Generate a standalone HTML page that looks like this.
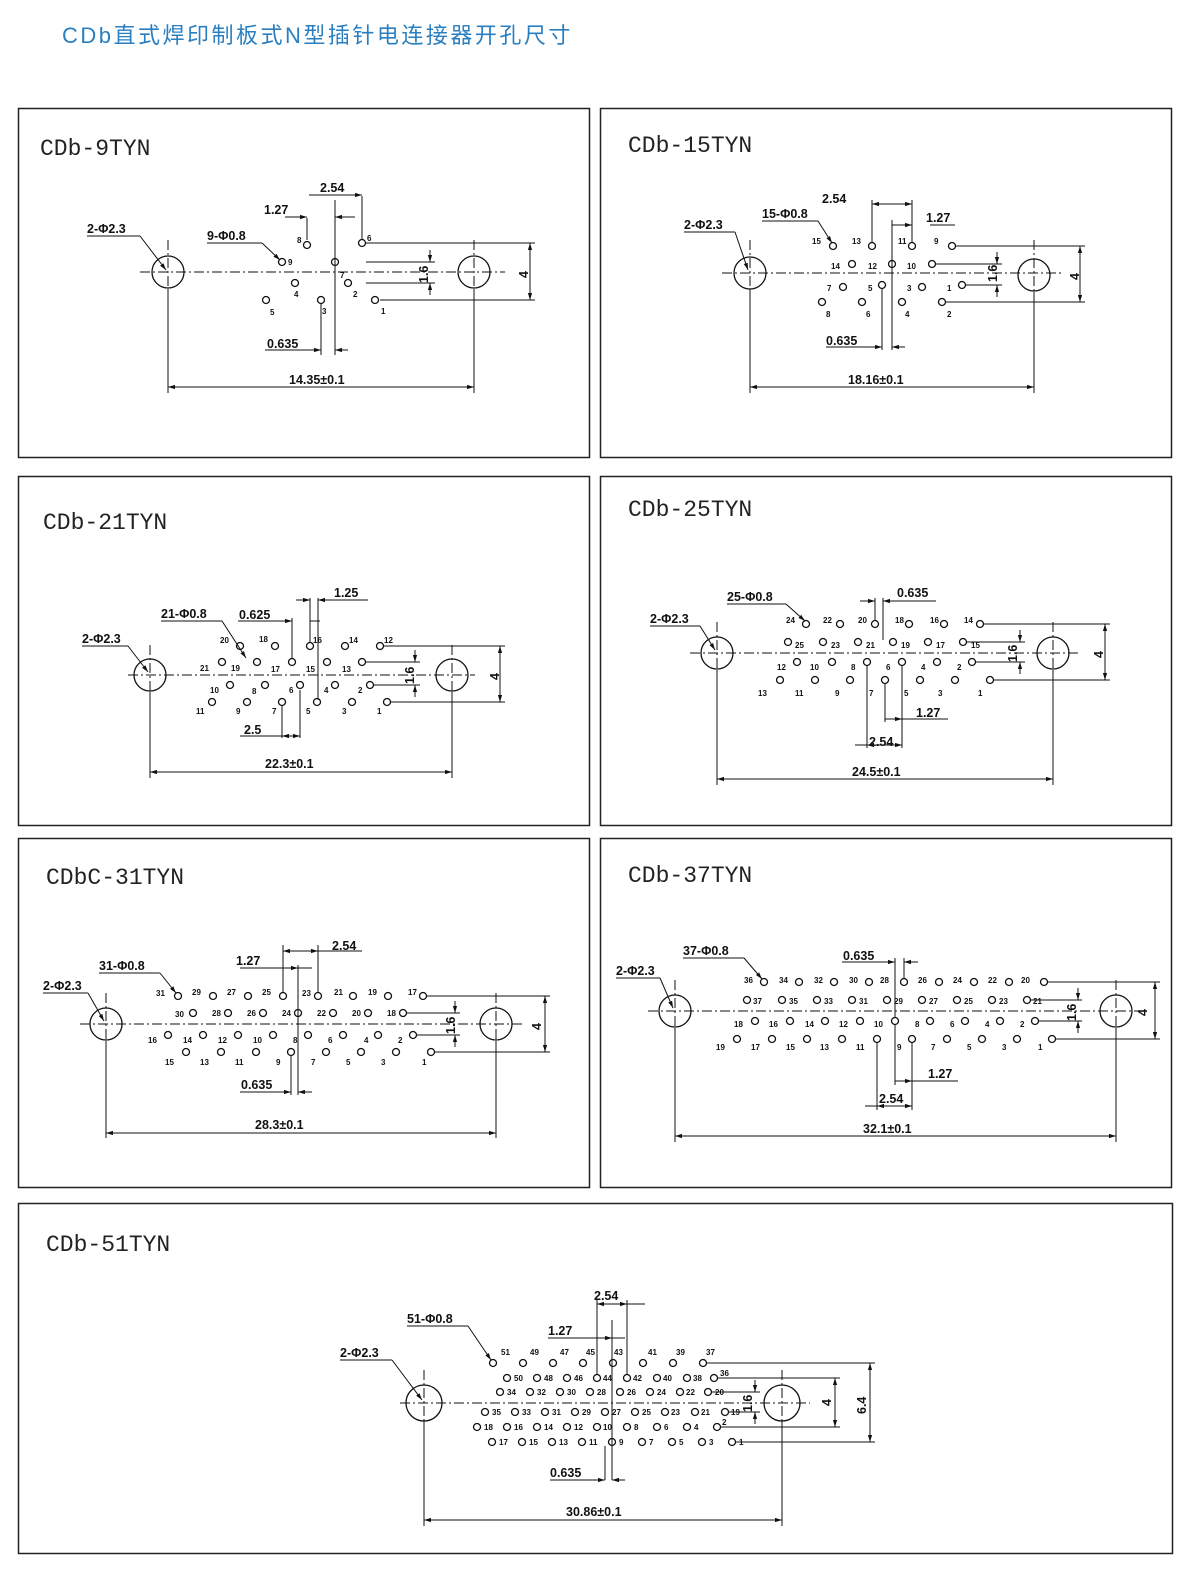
<!DOCTYPE html>
<html><head><meta charset="utf-8"><style>
html,body{margin:0;padding:0;background:#fff;overflow:hidden;width:1200px;height:1586px;}
svg{display:block;}
.t{font-family:"Liberation Sans",sans-serif;font-weight:bold;font-size:12.5px;fill:#111;}
.p{font-family:"Liberation Sans",sans-serif;font-weight:bold;font-size:8px;fill:#111;}
.h{font-family:"Liberation Mono","DejaVu Sans Mono",monospace;font-size:23px;fill:#222;}
circle{fill:none;stroke:#111;stroke-width:1.3;}
line,polyline{stroke:#111;stroke-width:1;}
.c{stroke-dasharray:10,3,2,3;}
</style></head><body>
<svg width="1200" height="1586" viewBox="0 0 1200 1586" xmlns="http://www.w3.org/2000/svg">
<defs><marker id="a" viewBox="0 0 10 10" refX="10" refY="5" markerWidth="7" markerHeight="7" orient="auto-start-reverse"><path d="M0,2 L10,5 L0,8 z" fill="#111"/></marker></defs>
<text x="62" y="43" font-size="22" fill="#2a7fc0" style="font-family:'Liberation Sans','Noto Sans CJK SC',sans-serif;letter-spacing:2.5px">CDb直式焊印制板式N型插针电连接器开孔尺寸</text>
<g fill="none" stroke="#222" stroke-width="1.5">
<rect x="18.5" y="108.5" width="571" height="349"/>
<rect x="600.5" y="108.5" width="571" height="349"/>
<rect x="18.5" y="476.5" width="571" height="349"/>
<rect x="600.5" y="476.5" width="571" height="349"/>
<rect x="18.5" y="838.5" width="571" height="349"/>
<rect x="600.5" y="838.5" width="571" height="349"/>
<rect x="18.5" y="1203.5" width="1154" height="350"/>
</g>

<!-- Panel 1 -->
<text class="h" x="40" y="155">CDb-9TYN</text>
<line class="c" x1="140" y1="272" x2="505" y2="272"/>
<line class="c" x1="168" y1="240" x2="168" y2="300"/><line class="c" x1="474" y1="240" x2="474" y2="300"/>
<circle cx="168" cy="272" r="16"/><circle cx="474" cy="272" r="16"/>
<g><circle cx="307" cy="245" r="3.5"/><circle cx="362" cy="243" r="3.5"/><circle cx="335" cy="262" r="3.5"/><circle cx="282" cy="262" r="3.5"/><circle cx="295" cy="283" r="3.5"/><circle cx="348" cy="283" r="3.5"/><circle cx="375" cy="300" r="3.5"/><circle cx="266" cy="300" r="3.5"/><circle cx="321" cy="300" r="3.5"/></g>
<text class="p" x="297" y="243">8</text><text class="p" x="367" y="241">6</text><text class="p" x="340" y="278">7</text><text class="p" x="288" y="265">9</text><text class="p" x="294" y="297">4</text><text class="p" x="353" y="297">2</text><text class="p" x="381" y="314">1</text><text class="p" x="270" y="315">5</text><text class="p" x="322" y="314">3</text>
<line x1="335" y1="200" x2="335" y2="355"/><line x1="362" y1="196" x2="362" y2="240"/><line x1="307" y1="218" x2="307" y2="240"/><line x1="321" y1="303" x2="321" y2="355"/>
<line x1="309" y1="195" x2="362" y2="195" marker-end="url(#a)"/><line x1="285" y1="217" x2="307" y2="217" marker-end="url(#a)"/><line x1="335" y1="217" x2="355" y2="217" marker-start="url(#a)"/>
<line x1="265" y1="350" x2="321" y2="350" marker-end="url(#a)"/><line x1="335" y1="350" x2="348" y2="350" marker-start="url(#a)"/>
<line x1="366" y1="243" x2="535" y2="243"/><line x1="380" y1="300" x2="535" y2="300"/><line x1="366" y1="262" x2="435" y2="262"/><line x1="366" y1="283" x2="435" y2="283"/>
<line x1="430" y1="250" x2="430" y2="262" marker-end="url(#a)"/><line x1="430" y1="295" x2="430" y2="283" marker-end="url(#a)"/>
<line x1="530" y1="243" x2="530" y2="300" marker-start="url(#a)" marker-end="url(#a)"/>
<text class="t" transform="translate(428,283) rotate(-90)">1.6</text><text class="t" transform="translate(528,278) rotate(-90)">4</text>
<line x1="168" y1="290" x2="168" y2="393"/><line x1="474" y1="290" x2="474" y2="393"/>
<line x1="168" y1="387" x2="474" y2="387" marker-start="url(#a)" marker-end="url(#a)"/>
<text class="t" x="289" y="384">14.35±0.1</text><text class="t" x="267" y="348">0.635</text><text class="t" x="320" y="192">2.54</text><text class="t" x="264" y="214">1.27</text>
<text class="t" x="87" y="233">2-Φ2.3</text><line x1="87" y1="236" x2="140" y2="236"/><line x1="140" y1="236" x2="166" y2="270" marker-end="url(#a)"/>
<text class="t" x="207" y="240">9-Φ0.8</text><line x1="207" y1="243" x2="262" y2="243"/><line x1="262" y1="243" x2="280" y2="260" marker-end="url(#a)"/>

<!-- Panel 2 -->
<text class="h" x="628" y="152">CDb-15TYN</text>
<line class="c" x1="722" y1="273" x2="1062" y2="273"/>
<line class="c" x1="750" y1="240" x2="750" y2="305"/><line class="c" x1="1034" y1="240" x2="1034" y2="305"/>
<circle cx="750" cy="273" r="16"/><circle cx="1034" cy="275" r="16"/>
<circle cx="833" cy="246" r="3.5"/><circle cx="872" cy="246" r="3.5"/><circle cx="912" cy="246" r="3.5"/><circle cx="952" cy="246" r="3.5"/>
<circle cx="852" cy="264" r="3.5"/><circle cx="892" cy="264" r="3.5"/><circle cx="932" cy="264" r="3.5"/>
<circle cx="843" cy="287" r="3.5"/><circle cx="882" cy="285" r="3.5"/><circle cx="922" cy="287" r="3.5"/><circle cx="962" cy="285" r="3.5"/>
<circle cx="822" cy="302" r="3.5"/><circle cx="862" cy="302" r="3.5"/><circle cx="902" cy="302" r="3.5"/><circle cx="942" cy="302" r="3.5"/>
<text class="p" x="812" y="244">15</text><text class="p" x="852" y="244">13</text><text class="p" x="898" y="244">11</text><text class="p" x="934" y="244">9</text>
<text class="p" x="831" y="269">14</text><text class="p" x="868" y="269">12</text><text class="p" x="907" y="269">10</text>
<text class="p" x="827" y="291">7</text><text class="p" x="868" y="291">5</text><text class="p" x="907" y="291">3</text><text class="p" x="947" y="291">1</text>
<text class="p" x="826" y="317">8</text><text class="p" x="866" y="317">6</text><text class="p" x="905" y="317">4</text><text class="p" x="947" y="317">2</text>
<line x1="872" y1="200" x2="872" y2="242"/><line x1="912" y1="200" x2="912" y2="242"/><line x1="892" y1="220" x2="892" y2="350"/><line x1="882" y1="289" x2="882" y2="350"/>
<line x1="872" y1="204" x2="912" y2="204" marker-start="url(#a)" marker-end="url(#a)"/>
<line x1="892" y1="225" x2="912" y2="225" marker-end="url(#a)"/><line x1="930" y1="225" x2="955" y2="225"/>
<line x1="826" y1="347" x2="882" y2="347" marker-end="url(#a)"/><line x1="892" y1="347" x2="905" y2="347" marker-start="url(#a)"/>
<line x1="956" y1="246" x2="1085" y2="246"/><line x1="946" y1="302" x2="1085" y2="302"/><line x1="936" y1="264" x2="1002" y2="264"/><line x1="966" y1="285" x2="1002" y2="285"/>
<line x1="997" y1="252" x2="997" y2="264" marker-end="url(#a)"/><line x1="997" y1="297" x2="997" y2="285" marker-end="url(#a)"/>
<line x1="1080" y1="246" x2="1080" y2="302" marker-start="url(#a)" marker-end="url(#a)"/>
<text class="t" transform="translate(997,282) rotate(-90)">1.6</text><text class="t" transform="translate(1079,280) rotate(-90)">4</text>
<line x1="750" y1="290" x2="750" y2="393"/><line x1="1034" y1="292" x2="1034" y2="393"/>
<line x1="750" y1="387" x2="1034" y2="387" marker-start="url(#a)" marker-end="url(#a)"/>
<text class="t" x="848" y="384">18.16±0.1</text><text class="t" x="826" y="345">0.635</text><text class="t" x="822" y="203">2.54</text><text class="t" x="926" y="222">1.27</text>
<text class="t" x="684" y="229">2-Φ2.3</text><line x1="684" y1="232" x2="735" y2="232"/><line x1="735" y1="232" x2="748" y2="270" marker-end="url(#a)"/>
<text class="t" x="762" y="218">15-Φ0.8</text><line x1="762" y1="221" x2="818" y2="221"/><line x1="818" y1="221" x2="832" y2="243" marker-end="url(#a)"/>

<!-- Panel 3 -->
<text class="h" x="43" y="529">CDb-21TYN</text>
<line class="c" x1="128" y1="675" x2="475" y2="675"/>
<line class="c" x1="150" y1="645" x2="150" y2="705"/><line class="c" x1="452" y1="645" x2="452" y2="705"/>
<circle cx="150" cy="675" r="16"/><circle cx="452" cy="675" r="16"/>
<circle cx="240" cy="646" r="3.5"/><circle cx="275" cy="646" r="3.5"/><circle cx="310" cy="646" r="3.5"/><circle cx="345" cy="646" r="3.5"/><circle cx="380" cy="646" r="3.5"/>
<circle cx="222" cy="662" r="3.5"/><circle cx="257" cy="662" r="3.5"/><circle cx="292" cy="662" r="3.5"/><circle cx="327" cy="662" r="3.5"/><circle cx="362" cy="662" r="3.5"/>
<circle cx="230" cy="685" r="3.5"/><circle cx="265" cy="685" r="3.5"/><circle cx="300" cy="685" r="3.5"/><circle cx="335" cy="685" r="3.5"/><circle cx="370" cy="685" r="3.5"/>
<circle cx="212" cy="702" r="3.5"/><circle cx="247" cy="702" r="3.5"/><circle cx="282" cy="702" r="3.5"/><circle cx="317" cy="702" r="3.5"/><circle cx="352" cy="702" r="3.5"/><circle cx="387" cy="702" r="3.5"/>
<text class="p" x="220" y="643">20</text><text class="p" x="259" y="642">18</text><text class="p" x="313" y="643">16</text><text class="p" x="349" y="643">14</text><text class="p" x="384" y="643">12</text>
<text class="p" x="200" y="671">21</text><text class="p" x="231" y="671">19</text><text class="p" x="271" y="672">17</text><text class="p" x="306" y="672">15</text><text class="p" x="342" y="672">13</text>
<text class="p" x="210" y="693">10</text><text class="p" x="252" y="694">8</text><text class="p" x="289" y="693">6</text><text class="p" x="324" y="693">4</text><text class="p" x="358" y="693">2</text>
<text class="p" x="196" y="714">11</text><text class="p" x="236" y="714">9</text><text class="p" x="272" y="714">7</text><text class="p" x="306" y="714">5</text><text class="p" x="342" y="714">3</text><text class="p" x="377" y="714">1</text>
<line x1="292" y1="618" x2="292" y2="658"/><line x1="310" y1="598" x2="310" y2="642"/><line x1="318" y1="598" x2="318" y2="700"/><line x1="282" y1="706" x2="282" y2="738"/><line x1="300" y1="690" x2="300" y2="738"/>
<line x1="238" y1="621" x2="292" y2="621" marker-end="url(#a)"/><line x1="310" y1="621" x2="320" y2="621"/>
<line x1="296" y1="600" x2="310" y2="600" marker-end="url(#a)"/><line x1="318" y1="600" x2="368" y2="600" marker-start="url(#a)"/>
<line x1="240" y1="736" x2="282" y2="736"/><line x1="282" y1="736" x2="300" y2="736" marker-start="url(#a)" marker-end="url(#a)"/>
<line x1="384" y1="646" x2="505" y2="646"/><line x1="391" y1="702" x2="505" y2="702"/><line x1="366" y1="662" x2="420" y2="662"/><line x1="374" y1="685" x2="420" y2="685"/>
<line x1="415" y1="650" x2="415" y2="662" marker-end="url(#a)"/><line x1="415" y1="697" x2="415" y2="685" marker-end="url(#a)"/>
<line x1="500" y1="646" x2="500" y2="702" marker-start="url(#a)" marker-end="url(#a)"/>
<text class="t" transform="translate(414,684) rotate(-90)">1.6</text><text class="t" transform="translate(499,680) rotate(-90)">4</text>
<line x1="150" y1="692" x2="150" y2="778"/><line x1="452" y1="692" x2="452" y2="778"/>
<line x1="150" y1="772" x2="452" y2="772" marker-start="url(#a)" marker-end="url(#a)"/>
<text class="t" x="265" y="768">22.3±0.1</text><text class="t" x="244" y="734">2.5</text><text class="t" x="239" y="619">0.625</text><text class="t" x="334" y="597">1.25</text>
<text class="t" x="82" y="643">2-Φ2.3</text><line x1="82" y1="646" x2="128" y2="646"/><line x1="128" y1="646" x2="148" y2="672" marker-end="url(#a)"/>
<text class="t" x="161" y="618">21-Φ0.8</text><line x1="161" y1="621" x2="222" y2="621"/><line x1="222" y1="621" x2="246" y2="658" marker-end="url(#a)"/>

<!-- Panel 4 -->
<text class="h" x="628" y="516">CDb-25TYN</text>
<line class="c" x1="690" y1="653" x2="1080" y2="653"/>
<line class="c" x1="717" y1="622" x2="717" y2="685"/><line class="c" x1="1053" y1="622" x2="1053" y2="685"/>
<circle cx="717" cy="653" r="16"/><circle cx="1053" cy="653" r="16"/>
<circle cx="806" cy="624" r="3.5"/><circle cx="840" cy="624" r="3.5"/><circle cx="875" cy="624" r="3.5"/><circle cx="909" cy="624" r="3.5"/><circle cx="944" cy="624" r="3.5"/><circle cx="980" cy="624" r="3.5"/>
<circle cx="788" cy="642" r="3.5"/><circle cx="823" cy="642" r="3.5"/><circle cx="858" cy="642" r="3.5"/><circle cx="893" cy="642" r="3.5"/><circle cx="928" cy="642" r="3.5"/><circle cx="963" cy="642" r="3.5"/>
<circle cx="797" cy="662" r="3.5"/><circle cx="832" cy="662" r="3.5"/><circle cx="867" cy="662" r="3.5"/><circle cx="902" cy="662" r="3.5"/><circle cx="937" cy="662" r="3.5"/><circle cx="972" cy="662" r="3.5"/>
<circle cx="780" cy="680" r="3.5"/><circle cx="815" cy="680" r="3.5"/><circle cx="850" cy="680" r="3.5"/><circle cx="885" cy="680" r="3.5"/><circle cx="920" cy="680" r="3.5"/><circle cx="955" cy="680" r="3.5"/><circle cx="990" cy="680" r="3.5"/>
<text class="p" x="786" y="623">24</text><text class="p" x="823" y="623">22</text><text class="p" x="858" y="623">20</text><text class="p" x="895" y="623">18</text><text class="p" x="930" y="623">16</text><text class="p" x="964" y="623">14</text>
<text class="p" x="795" y="648">25</text><text class="p" x="831" y="648">23</text><text class="p" x="866" y="648">21</text><text class="p" x="901" y="648">19</text><text class="p" x="936" y="648">17</text><text class="p" x="971" y="648">15</text>
<text class="p" x="777" y="670">12</text><text class="p" x="810" y="670">10</text><text class="p" x="851" y="670">8</text><text class="p" x="886" y="670">6</text><text class="p" x="921" y="670">4</text><text class="p" x="957" y="670">2</text>
<text class="p" x="758" y="696">13</text><text class="p" x="795" y="696">11</text><text class="p" x="835" y="696">9</text><text class="p" x="869" y="696">7</text><text class="p" x="904" y="696">5</text><text class="p" x="938" y="696">3</text><text class="p" x="978" y="696">1</text>
<line x1="875" y1="598" x2="875" y2="620"/><line x1="883" y1="598" x2="883" y2="640"/><line x1="867" y1="666" x2="867" y2="748"/><line x1="885" y1="684" x2="885" y2="722"/><line x1="902" y1="666" x2="902" y2="748"/>
<line x1="860" y1="601" x2="875" y2="601" marker-end="url(#a)"/><line x1="883" y1="601" x2="936" y2="601" marker-start="url(#a)"/>
<line x1="885" y1="719" x2="902" y2="719" marker-end="url(#a)"/><line x1="902" y1="719" x2="948" y2="719"/>
<line x1="867" y1="745" x2="902" y2="745" marker-start="url(#a)" marker-end="url(#a)"/><line x1="855" y1="745" x2="867" y2="745"/>
<line x1="984" y1="624" x2="1110" y2="624"/><line x1="994" y1="680" x2="1110" y2="680"/><line x1="967" y1="642" x2="1025" y2="642"/><line x1="976" y1="662" x2="1025" y2="662"/>
<line x1="1020" y1="630" x2="1020" y2="642" marker-end="url(#a)"/><line x1="1020" y1="674" x2="1020" y2="662" marker-end="url(#a)"/>
<line x1="1105" y1="624" x2="1105" y2="680" marker-start="url(#a)" marker-end="url(#a)"/>
<text class="t" transform="translate(1017,662) rotate(-90)">1.6</text><text class="t" transform="translate(1103,658) rotate(-90)">4</text>
<line x1="717" y1="670" x2="717" y2="785"/><line x1="1053" y1="670" x2="1053" y2="785"/>
<line x1="717" y1="779" x2="1053" y2="779" marker-start="url(#a)" marker-end="url(#a)"/>
<text class="t" x="852" y="776">24.5±0.1</text><text class="t" x="869" y="746">2.54</text><text class="t" x="916" y="717">1.27</text><text class="t" x="897" y="597">0.635</text>
<text class="t" x="650" y="623">2-Φ2.3</text><line x1="650" y1="626" x2="700" y2="626"/><line x1="700" y1="626" x2="715" y2="650" marker-end="url(#a)"/>
<text class="t" x="727" y="601">25-Φ0.8</text><line x1="727" y1="604" x2="786" y2="604"/><line x1="786" y1="604" x2="805" y2="621" marker-end="url(#a)"/>

<!-- Panel 5 -->
<text class="h" x="46" y="884">CDbC-31TYN</text>
<line class="c" x1="80" y1="1024" x2="525" y2="1024"/>
<line class="c" x1="106" y1="993" x2="106" y2="1055"/><line class="c" x1="496" y1="993" x2="496" y2="1055"/>
<circle cx="106" cy="1024" r="16"/><circle cx="496" cy="1024" r="16"/>
<g>
<circle cx="178" cy="996" r="3.5"/><circle cx="213" cy="996" r="3.5"/><circle cx="248" cy="996" r="3.5"/><circle cx="283" cy="996" r="3.5"/><circle cx="318" cy="996" r="3.5"/><circle cx="353" cy="996" r="3.5"/><circle cx="388" cy="996" r="3.5"/><circle cx="423" cy="996" r="3.5"/>
<circle cx="193" cy="1013" r="3.5"/><circle cx="228" cy="1013" r="3.5"/><circle cx="263" cy="1013" r="3.5"/><circle cx="298" cy="1013" r="3.5"/><circle cx="333" cy="1013" r="3.5"/><circle cx="368" cy="1013" r="3.5"/><circle cx="403" cy="1013" r="3.5"/>
<circle cx="168" cy="1035" r="3.5"/><circle cx="203" cy="1035" r="3.5"/><circle cx="238" cy="1035" r="3.5"/><circle cx="273" cy="1035" r="3.5"/><circle cx="308" cy="1035" r="3.5"/><circle cx="343" cy="1035" r="3.5"/><circle cx="378" cy="1035" r="3.5"/><circle cx="413" cy="1035" r="3.5"/>
<circle cx="186" cy="1052" r="3.5"/><circle cx="221" cy="1052" r="3.5"/><circle cx="256" cy="1052" r="3.5"/><circle cx="291" cy="1052" r="3.5"/><circle cx="326" cy="1052" r="3.5"/><circle cx="361" cy="1052" r="3.5"/><circle cx="396" cy="1052" r="3.5"/><circle cx="431" cy="1052" r="3.5"/>
</g>
<text class="p" x="156" y="996">31</text><text class="p" x="192" y="995">29</text><text class="p" x="227" y="995">27</text><text class="p" x="262" y="995">25</text><text class="p" x="302" y="996">23</text><text class="p" x="334" y="995">21</text><text class="p" x="368" y="995">19</text><text class="p" x="408" y="995">17</text>
<text class="p" x="175" y="1017">30</text><text class="p" x="212" y="1016">28</text><text class="p" x="247" y="1016">26</text><text class="p" x="282" y="1016">24</text><text class="p" x="317" y="1016">22</text><text class="p" x="352" y="1016">20</text><text class="p" x="387" y="1016">18</text>
<text class="p" x="148" y="1043">16</text><text class="p" x="183" y="1043">14</text><text class="p" x="218" y="1043">12</text><text class="p" x="253" y="1043">10</text><text class="p" x="293" y="1043">8</text><text class="p" x="328" y="1043">6</text><text class="p" x="364" y="1043">4</text><text class="p" x="398" y="1043">2</text>
<text class="p" x="165" y="1065">15</text><text class="p" x="200" y="1065">13</text><text class="p" x="235" y="1065">11</text><text class="p" x="276" y="1065">9</text><text class="p" x="311" y="1065">7</text><text class="p" x="346" y="1065">5</text><text class="p" x="381" y="1065">3</text><text class="p" x="422" y="1065">1</text>
<line x1="283" y1="945" x2="283" y2="992"/><line x1="298" y1="965" x2="298" y2="1095"/><line x1="318" y1="945" x2="318" y2="992"/><line x1="291" y1="1056" x2="291" y2="1095"/>
<line x1="283" y1="951" x2="318" y2="951" marker-start="url(#a)" marker-end="url(#a)"/><line x1="318" y1="951" x2="362" y2="951"/>
<line x1="240" y1="968" x2="283" y2="968"/><line x1="283" y1="968" x2="298" y2="968" marker-end="url(#a)"/><line x1="298" y1="968" x2="312" y2="968"/>
<line x1="240" y1="1092" x2="291" y2="1092" marker-end="url(#a)"/><line x1="298" y1="1092" x2="312" y2="1092" marker-start="url(#a)"/>
<line x1="427" y1="996" x2="550" y2="996"/><line x1="435" y1="1052" x2="550" y2="1052"/><line x1="407" y1="1013" x2="460" y2="1013"/><line x1="417" y1="1035" x2="460" y2="1035"/>
<line x1="455" y1="1001" x2="455" y2="1013" marker-end="url(#a)"/><line x1="455" y1="1047" x2="455" y2="1035" marker-end="url(#a)"/>
<line x1="545" y1="996" x2="545" y2="1052" marker-start="url(#a)" marker-end="url(#a)"/>
<text class="t" transform="translate(455,1034) rotate(-90)">1.6</text><text class="t" transform="translate(541,1030) rotate(-90)">4</text>
<line x1="106" y1="1041" x2="106" y2="1138"/><line x1="496" y1="1041" x2="496" y2="1138"/>
<line x1="106" y1="1133" x2="496" y2="1133" marker-start="url(#a)" marker-end="url(#a)"/>
<text class="t" x="255" y="1129">28.3±0.1</text><text class="t" x="241" y="1089">0.635</text><text class="t" x="236" y="965">1.27</text><text class="t" x="332" y="950">2.54</text>
<text class="t" x="43" y="990">2-Φ2.3</text><line x1="43" y1="993" x2="88" y2="993"/><line x1="88" y1="993" x2="104" y2="1021" marker-end="url(#a)"/>
<text class="t" x="99" y="970">31-Φ0.8</text><line x1="99" y1="973" x2="160" y2="973"/><line x1="160" y1="973" x2="176" y2="993" marker-end="url(#a)"/>

<!-- Panel 6 -->
<text class="h" x="628" y="882">CDb-37TYN</text>
<line class="c" x1="648" y1="1011" x2="1145" y2="1011"/>
<line class="c" x1="675" y1="980" x2="675" y2="1043"/><line class="c" x1="1116" y1="980" x2="1116" y2="1043"/>
<circle cx="675" cy="1011" r="16"/><circle cx="1116" cy="1011" r="16"/>
<g>
<circle cx="764" cy="982" r="3.5"/><circle cx="799" cy="982" r="3.5"/><circle cx="834" cy="982" r="3.5"/><circle cx="869" cy="982" r="3.5"/><circle cx="904" cy="982" r="3.5"/><circle cx="939" cy="982" r="3.5"/><circle cx="974" cy="982" r="3.5"/><circle cx="1009" cy="982" r="3.5"/><circle cx="1044" cy="982" r="3.5"/>
<circle cx="747" cy="1000" r="3.5"/><circle cx="782" cy="1000" r="3.5"/><circle cx="817" cy="1000" r="3.5"/><circle cx="852" cy="1000" r="3.5"/><circle cx="887" cy="1000" r="3.5"/><circle cx="922" cy="1000" r="3.5"/><circle cx="957" cy="1000" r="3.5"/><circle cx="992" cy="1000" r="3.5"/><circle cx="1027" cy="1000" r="3.5"/>
<circle cx="755" cy="1021" r="3.5"/><circle cx="790" cy="1021" r="3.5"/><circle cx="825" cy="1021" r="3.5"/><circle cx="860" cy="1021" r="3.5"/><circle cx="895" cy="1021" r="3.5"/><circle cx="930" cy="1021" r="3.5"/><circle cx="965" cy="1021" r="3.5"/><circle cx="1000" cy="1021" r="3.5"/><circle cx="1035" cy="1021" r="3.5"/>
<circle cx="737" cy="1039" r="3.5"/><circle cx="772" cy="1039" r="3.5"/><circle cx="807" cy="1039" r="3.5"/><circle cx="842" cy="1039" r="3.5"/><circle cx="877" cy="1039" r="3.5"/><circle cx="912" cy="1039" r="3.5"/><circle cx="947" cy="1039" r="3.5"/><circle cx="982" cy="1039" r="3.5"/><circle cx="1017" cy="1039" r="3.5"/><circle cx="1052" cy="1039" r="3.5"/>
</g>
<text class="p" x="744" y="983">36</text><text class="p" x="779" y="983">34</text><text class="p" x="814" y="983">32</text><text class="p" x="849" y="983">30</text><text class="p" x="880" y="983">28</text><text class="p" x="918" y="983">26</text><text class="p" x="953" y="983">24</text><text class="p" x="988" y="983">22</text><text class="p" x="1021" y="983">20</text>
<text class="p" x="753" y="1004">37</text><text class="p" x="789" y="1004">35</text><text class="p" x="824" y="1004">33</text><text class="p" x="859" y="1004">31</text><text class="p" x="894" y="1004">29</text><text class="p" x="929" y="1004">27</text><text class="p" x="964" y="1004">25</text><text class="p" x="999" y="1004">23</text><text class="p" x="1033" y="1004">21</text>
<text class="p" x="734" y="1027">18</text><text class="p" x="769" y="1027">16</text><text class="p" x="805" y="1027">14</text><text class="p" x="839" y="1027">12</text><text class="p" x="874" y="1027">10</text><text class="p" x="915" y="1027">8</text><text class="p" x="950" y="1027">6</text><text class="p" x="985" y="1027">4</text><text class="p" x="1020" y="1027">2</text>
<text class="p" x="716" y="1050">19</text><text class="p" x="751" y="1050">17</text><text class="p" x="786" y="1050">15</text><text class="p" x="820" y="1050">13</text><text class="p" x="856" y="1050">11</text><text class="p" x="897" y="1050">9</text><text class="p" x="931" y="1050">7</text><text class="p" x="967" y="1050">5</text><text class="p" x="1002" y="1050">3</text><text class="p" x="1038" y="1050">1</text>
<line x1="895" y1="958" x2="895" y2="1017"/><line x1="904" y1="958" x2="904" y2="978"/><line x1="877" y1="1043" x2="877" y2="1110"/><line x1="895" y1="1025" x2="895" y2="1085"/><line x1="912" y1="1043" x2="912" y2="1110"/>
<line x1="842" y1="962" x2="895" y2="962" marker-end="url(#a)"/><line x1="904" y1="962" x2="918" y2="962" marker-start="url(#a)"/>
<line x1="895" y1="1081" x2="912" y2="1081" marker-end="url(#a)"/><line x1="912" y1="1081" x2="958" y2="1081"/>
<line x1="877" y1="1106" x2="912" y2="1106" marker-start="url(#a)" marker-end="url(#a)"/><line x1="865" y1="1106" x2="877" y2="1106"/>
<line x1="1048" y1="982" x2="1160" y2="982"/><line x1="1056" y1="1039" x2="1160" y2="1039"/><line x1="1031" y1="1000" x2="1082" y2="1000"/><line x1="1039" y1="1021" x2="1082" y2="1021"/>
<line x1="1078" y1="988" x2="1078" y2="1000" marker-end="url(#a)"/><line x1="1078" y1="1033" x2="1078" y2="1021" marker-end="url(#a)"/>
<line x1="1155" y1="982" x2="1155" y2="1039" marker-start="url(#a)" marker-end="url(#a)"/>
<text class="t" transform="translate(1076,1021) rotate(-90)">1.6</text><text class="t" transform="translate(1147,1016) rotate(-90)">4</text>
<line x1="675" y1="1028" x2="675" y2="1142"/><line x1="1116" y1="1028" x2="1116" y2="1142"/>
<line x1="675" y1="1136" x2="1116" y2="1136" marker-start="url(#a)" marker-end="url(#a)"/>
<text class="t" x="863" y="1133">32.1±0.1</text><text class="t" x="879" y="1103">2.54</text><text class="t" x="928" y="1078">1.27</text><text class="t" x="843" y="960">0.635</text>
<text class="t" x="616" y="975">2-Φ2.3</text><line x1="616" y1="978" x2="660" y2="978"/><line x1="660" y1="978" x2="673" y2="1008" marker-end="url(#a)"/>
<text class="t" x="683" y="955">37-Φ0.8</text><line x1="683" y1="958" x2="744" y2="958"/><line x1="744" y1="958" x2="762" y2="979" marker-end="url(#a)"/>

<!-- Panel 7 -->
<text class="h" x="46" y="1251">CDb-51TYN</text>
<line class="c" x1="400" y1="1403" x2="810" y2="1403"/>
<line class="c" x1="424" y1="1370" x2="424" y2="1436"/><line class="c" x1="782" y1="1370" x2="782" y2="1436"/>
<circle cx="424" cy="1403" r="18"/><circle cx="782" cy="1403" r="18"/>
<g>
<circle cx="493" cy="1363" r="3.5"/><circle cx="523" cy="1363" r="3.5"/><circle cx="553" cy="1363" r="3.5"/><circle cx="583" cy="1363" r="3.5"/><circle cx="613" cy="1363" r="3.5"/><circle cx="643" cy="1363" r="3.5"/><circle cx="673" cy="1363" r="3.5"/><circle cx="703" cy="1363" r="3.5"/>
<circle cx="507" cy="1378" r="3.5"/><circle cx="537" cy="1378" r="3.5"/><circle cx="567" cy="1378" r="3.5"/><circle cx="597" cy="1378" r="3.5"/><circle cx="627" cy="1378" r="3.5"/><circle cx="657" cy="1378" r="3.5"/><circle cx="687" cy="1378" r="3.5"/><circle cx="714" cy="1378" r="3.5"/>
<circle cx="500" cy="1392" r="3.5"/><circle cx="530" cy="1392" r="3.5"/><circle cx="560" cy="1392" r="3.5"/><circle cx="590" cy="1392" r="3.5"/><circle cx="620" cy="1392" r="3.5"/><circle cx="650" cy="1392" r="3.5"/><circle cx="680" cy="1392" r="3.5"/><circle cx="708" cy="1392" r="3.5"/>
<circle cx="485" cy="1412" r="3.5"/><circle cx="515" cy="1412" r="3.5"/><circle cx="545" cy="1412" r="3.5"/><circle cx="575" cy="1412" r="3.5"/><circle cx="605" cy="1412" r="3.5"/><circle cx="635" cy="1412" r="3.5"/><circle cx="665" cy="1412" r="3.5"/><circle cx="695" cy="1412" r="3.5"/><circle cx="725" cy="1412" r="3.5"/>
<circle cx="477" cy="1427" r="3.5"/><circle cx="507" cy="1427" r="3.5"/><circle cx="537" cy="1427" r="3.5"/><circle cx="567" cy="1427" r="3.5"/><circle cx="597" cy="1427" r="3.5"/><circle cx="627" cy="1427" r="3.5"/><circle cx="657" cy="1427" r="3.5"/><circle cx="687" cy="1427" r="3.5"/><circle cx="717" cy="1427" r="3.5"/>
<circle cx="492" cy="1442" r="3.5"/><circle cx="522" cy="1442" r="3.5"/><circle cx="552" cy="1442" r="3.5"/><circle cx="582" cy="1442" r="3.5"/><circle cx="612" cy="1442" r="3.5"/><circle cx="642" cy="1442" r="3.5"/><circle cx="672" cy="1442" r="3.5"/><circle cx="702" cy="1442" r="3.5"/><circle cx="732" cy="1442" r="3.5"/>
</g>
<text class="p" x="501" y="1355">51</text><text class="p" x="530" y="1355">49</text><text class="p" x="560" y="1355">47</text><text class="p" x="586" y="1355">45</text><text class="p" x="614" y="1355">43</text><text class="p" x="648" y="1355">41</text><text class="p" x="676" y="1355">39</text><text class="p" x="706" y="1355">37</text>
<text class="p" x="514" y="1381">50</text><text class="p" x="544" y="1381">48</text><text class="p" x="574" y="1381">46</text><text class="p" x="603" y="1381">44</text><text class="p" x="633" y="1381">42</text><text class="p" x="663" y="1381">40</text><text class="p" x="693" y="1381">38</text><text class="p" x="720" y="1376">36</text>
<text class="p" x="507" y="1395">34</text><text class="p" x="537" y="1395">32</text><text class="p" x="567" y="1395">30</text><text class="p" x="597" y="1395">28</text><text class="p" x="627" y="1395">26</text><text class="p" x="657" y="1395">24</text><text class="p" x="686" y="1395">22</text><text class="p" x="715" y="1395">20</text>
<text class="p" x="492" y="1415">35</text><text class="p" x="522" y="1415">33</text><text class="p" x="552" y="1415">31</text><text class="p" x="582" y="1415">29</text><text class="p" x="612" y="1415">27</text><text class="p" x="642" y="1415">25</text><text class="p" x="671" y="1415">23</text><text class="p" x="701" y="1415">21</text><text class="p" x="731" y="1415">19</text>
<text class="p" x="484" y="1430">18</text><text class="p" x="514" y="1430">16</text><text class="p" x="544" y="1430">14</text><text class="p" x="574" y="1430">12</text><text class="p" x="603" y="1430">10</text><text class="p" x="634" y="1430">8</text><text class="p" x="664" y="1430">6</text><text class="p" x="694" y="1430">4</text><text class="p" x="722" y="1425">2</text>
<text class="p" x="499" y="1445">17</text><text class="p" x="529" y="1445">15</text><text class="p" x="559" y="1445">13</text><text class="p" x="589" y="1445">11</text><text class="p" x="619" y="1445">9</text><text class="p" x="649" y="1445">7</text><text class="p" x="679" y="1445">5</text><text class="p" x="709" y="1445">3</text><text class="p" x="739" y="1445">1</text>
<line x1="597" y1="1300" x2="597" y2="1374"/><line x1="612" y1="1320" x2="612" y2="1480"/><line x1="627" y1="1300" x2="627" y2="1374"/><line x1="605" y1="1446" x2="605" y2="1480"/>
<line x1="597" y1="1304" x2="627" y2="1304" marker-start="url(#a)" marker-end="url(#a)"/><line x1="627" y1="1304" x2="645" y2="1304"/>
<line x1="548" y1="1338" x2="597" y2="1338"/><line x1="597" y1="1338" x2="612" y2="1338" marker-end="url(#a)"/><line x1="612" y1="1338" x2="625" y2="1338"/>
<line x1="550" y1="1480" x2="605" y2="1480" marker-end="url(#a)"/><line x1="612" y1="1480" x2="625" y2="1480" marker-start="url(#a)"/>
<line x1="707" y1="1363" x2="875" y2="1363"/><line x1="736" y1="1442" x2="875" y2="1442"/><line x1="718" y1="1378" x2="840" y2="1378"/><line x1="721" y1="1427" x2="840" y2="1427"/>
<line x1="712" y1="1392" x2="760" y2="1392"/><line x1="729" y1="1412" x2="760" y2="1412"/>
<line x1="755" y1="1380" x2="755" y2="1392" marker-end="url(#a)"/><line x1="755" y1="1424" x2="755" y2="1412" marker-end="url(#a)"/>
<line x1="835" y1="1378" x2="835" y2="1427" marker-start="url(#a)" marker-end="url(#a)"/>
<line x1="870" y1="1363" x2="870" y2="1442" marker-start="url(#a)" marker-end="url(#a)"/>
<text class="t" transform="translate(752,1412) rotate(-90)">1.6</text><text class="t" transform="translate(831,1406) rotate(-90)">4</text><text class="t" transform="translate(866,1414) rotate(-90)">6.4</text>
<line x1="424" y1="1421" x2="424" y2="1526"/><line x1="782" y1="1421" x2="782" y2="1526"/>
<line x1="424" y1="1520" x2="782" y2="1520" marker-start="url(#a)" marker-end="url(#a)"/>
<text class="t" x="566" y="1516">30.86±0.1</text><text class="t" x="550" y="1477">0.635</text><text class="t" x="548" y="1335">1.27</text><text class="t" x="594" y="1300">2.54</text>
<text class="t" x="340" y="1357">2-Φ2.3</text><line x1="340" y1="1360" x2="392" y2="1360"/><line x1="392" y1="1360" x2="422" y2="1400" marker-end="url(#a)"/>
<text class="t" x="407" y="1323">51-Φ0.8</text><line x1="407" y1="1326" x2="468" y2="1326"/><line x1="468" y1="1326" x2="491" y2="1360" marker-end="url(#a)"/>
</svg>
</body></html>
